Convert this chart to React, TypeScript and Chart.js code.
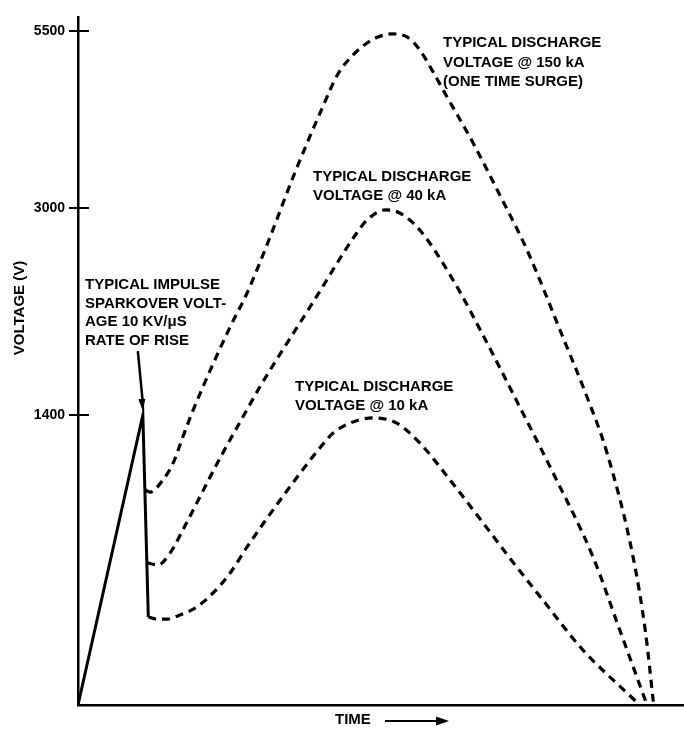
import React, { useEffect, useRef } from "react";
import { Chart, registerables } from "chart.js";

Chart.register(...registerables);

// ---- axis definition (the voltage axis of the original is not linear) ----
const yTickVolts = [1400, 3000, 5500];
const yTickLabels = ["1400", "3000", "5500"];
const scaleVolts = [0, 1400, 3000, 5500];
const scaleFrac = [0, 0.4215, 0.7224, 0.9797];

// ---- data (time in arbitrary units, voltage in V) ----
const sparkTime = [0, 10.7, 11.6];
const sparkVolt = [0, 1400, 425];

const time150 = [11.1, 11.9, 14.0, 15.7, 17.3, 18.8, 20.6, 25.1, 27.9, 31.7, 35.5, 40.3, 42.9, 45.4, 47.7, 49.5, 51.8, 54.3, 56.4, 58.6, 60.9, 65.2, 69.6, 74.1, 80.0, 84.0, 87.3, 91.6, 93.6, 95.0];
const volt150 = [1038, 1028, 1086, 1168, 1294, 1415, 1616, 2080, 2343, 2776, 3438, 4412, 4893, 5161, 5330, 5415, 5458, 5415, 5232, 4921, 4568, 3918, 3184, 2675, 2003, 1539, 1217, 714, 362, 0];

const time40 = [11.4, 13.2, 15.2, 17.3, 19.6, 21.8, 23.9, 27.2, 30.0, 38.8, 46.0, 47.7, 50.7, 53.1, 56.4, 61.9, 67.5, 72.9, 78.4, 85.0, 89.4, 93.9];
const volt40 = [686, 676, 734, 845, 975, 1101, 1217, 1390, 1616, 2273, 2807, 2907, 2985, 2961, 2830, 2443, 1957, 1462, 1120, 714, 362, 0];

const time10 = [11.6, 13.0, 14.7, 16.8, 19.6, 22.3, 25.1, 27.9, 34.2, 40.3, 42.1, 44.9, 48.7, 52.6, 56.4, 61.9, 67.5, 71.0, 76.7, 83.3, 90.6, 92.7];
const volt10 = [425, 415, 415, 434, 473, 541, 637, 763, 1023, 1255, 1313, 1361, 1386, 1361, 1265, 1067, 854, 719, 507, 266, 58, 0];

const note150 = ["TYPICAL DISCHARGE", "VOLTAGE @ 150 kA", "(ONE TIME SURGE)"];
const note40 = ["TYPICAL DISCHARGE", "VOLTAGE @ 40 kA"];
const note10 = ["TYPICAL DISCHARGE", "VOLTAGE @ 10 kA"];
const noteSpark = ["TYPICAL IMPULSE", "SPARKOVER VOLT-", "AGE 10 KV/\u03bcS", "RATE OF RISE"];
const yTitle = "VOLTAGE (V)";
const xTitle = "TIME";

function toAxis(v: number): number {
  const n = scaleVolts.length;
  for (let i = 1; i < n; i++) {
    if (v <= scaleVolts[i] || i === n - 1) {
      const v0 = scaleVolts[i - 1], v1 = scaleVolts[i];
      const f0 = scaleFrac[i - 1], f1 = scaleFrac[i];
      return f0 + ((v - v0) / (v1 - v0)) * (f1 - f0);
    }
  }
  return 0;
}

const toPoints = (t: number[], v: number[]) => t.map((x, i) => ({ x, y: toAxis(v[i]) }));

const FONT = "'Liberation Sans', Arial, sans-serif";

const overlay = {
  id: "overlay",
  afterDraw(chart: any) {
    const ctx: CanvasRenderingContext2D = chart.ctx;
    const xs = chart.scales.x;
    const ys = chart.scales.y;
    const left = chart.chartArea.left;
    ctx.save();
    ctx.strokeStyle = "#000";
    ctx.fillStyle = "#000";
    // inner half of the cross ticks
    ctx.lineWidth = 2;
    yTickVolts.forEach((v) => {
      const py = Math.round(ys.getPixelForValue(toAxis(v)));
      ctx.beginPath();
      ctx.moveTo(left, py);
      ctx.lineTo(left + 11, py);
      ctx.stroke();
    });

    ctx.font = `bold 15px ${FONT}`;
    ctx.textBaseline = "middle";
    ctx.textAlign = "left";
    const drawNote = (lines: string[], x: number, y: number, lh: number) => {
      lines.forEach((l, i) => ctx.fillText(l, x, y + i * lh));
    };
    drawNote(note150, 443, 43, 19.5);
    drawNote(note40, 313, 177, 18.5);
    drawNote(note10, 295, 387, 18.5);
    drawNote(noteSpark, 85, 285, 18.5);

    // arrow to sparkover peak
    const tipX = xs.getPixelForValue(sparkTime[1]);
    const tipY = ys.getPixelForValue(toAxis(sparkVolt[1])) - 4;
    const tailX = tipX - 5;
    const tailY = tipY - 60;
    ctx.lineWidth = 2.5;
    ctx.beginPath();
    ctx.moveTo(tailX, tailY);
    ctx.lineTo(tipX, tipY - 8);
    ctx.stroke();
    const ang = Math.atan2(tipY - tailY, tipX - tailX);
    ctx.beginPath();
    ctx.moveTo(tipX, tipY);
    ctx.lineTo(tipX - 12 * Math.cos(ang) + 3.5 * Math.sin(ang), tipY - 12 * Math.sin(ang) - 3.5 * Math.cos(ang));
    ctx.lineTo(tipX - 12 * Math.cos(ang) - 3.5 * Math.sin(ang), tipY - 12 * Math.sin(ang) + 3.5 * Math.cos(ang));
    ctx.closePath();
    ctx.fill();

    // x title with arrow
    ctx.fillText(xTitle, 335, 720);
    ctx.lineWidth = 2;
    ctx.beginPath();
    ctx.moveTo(385, 721);
    ctx.lineTo(438, 721);
    ctx.stroke();
    ctx.beginPath();
    ctx.moveTo(449, 721);
    ctx.lineTo(436, 716.5);
    ctx.lineTo(436, 725.5);
    ctx.closePath();
    ctx.fill();

    // y title
    ctx.translate(20, 308);
    ctx.rotate(-Math.PI / 2);
    ctx.textAlign = "center";
    ctx.fillText(yTitle, 0, 0);
    ctx.restore();
  },
};

export default function App() {
  const ref = useRef<HTMLCanvasElement | null>(null);
  useEffect(() => {
    document.body.style.margin = "0";
    const canvas = ref.current;
    if (!canvas) return;
    const dashed = (data: any[]) => ({
      data,
      borderColor: "#000",
      borderWidth: 3.2,
      borderDash: [8, 6],
      pointRadius: 0,
      fill: false,
      cubicInterpolationMode: "monotone" as const,
    });
    const chart = new Chart(canvas, {
      type: "line",
      data: {
        datasets: [
          {
            label: "sparkover",
            data: toPoints(sparkTime, sparkVolt),
            borderColor: "#000",
            borderWidth: 3,
            pointRadius: 0,
            tension: 0,
            fill: false,
          },
          { label: "150 kA", ...dashed(toPoints(time150, volt150)) },
          { label: "40 kA", ...dashed(toPoints(time40, volt40)) },
          { label: "10 kA", ...dashed(toPoints(time10, volt10)) },
        ],
      },
      options: {
        animation: false,
        responsive: false,
        devicePixelRatio: 1,
        layout: { padding: { top: 17, left: 0, right: 0, bottom: 0 } },
        plugins: { legend: { display: false }, tooltip: { enabled: false } },
        scales: {
          x: {
            type: "linear",
            min: 0,
            max: 100,
            ticks: { display: false },
            grid: { display: false },
            border: { display: true, color: "#000", width: 2.5 },
            afterFit: (s: any) => {
              s.height = 24;
            },
          },
          y: {
            type: "linear",
            min: 0,
            max: 1,
            afterBuildTicks: (s: any) => {
              s.ticks = yTickVolts.map((v) => ({ value: toAxis(v) }));
            },
            ticks: {
              autoSkip: false,
              padding: 4,
              color: "#000",
              font: { family: FONT, size: 14, weight: "bold" },
              callback: (_v: any, i: number) => yTickLabels[i],
            },
            grid: { drawOnChartArea: false, color: "#000", lineWidth: 2, tickLength: 9 },
            border: { display: true, color: "#000", width: 2.5 },
            afterFit: (s: any) => {
              s.width = 78;
            },
          },
        },
      },
      plugins: [overlay],
    });
    return () => chart.destroy();
  }, []);
  return (
    <div style={{ width: 684, height: 729 }}>
      <canvas ref={ref} width={684} height={729} />
    </div>
  );
}
